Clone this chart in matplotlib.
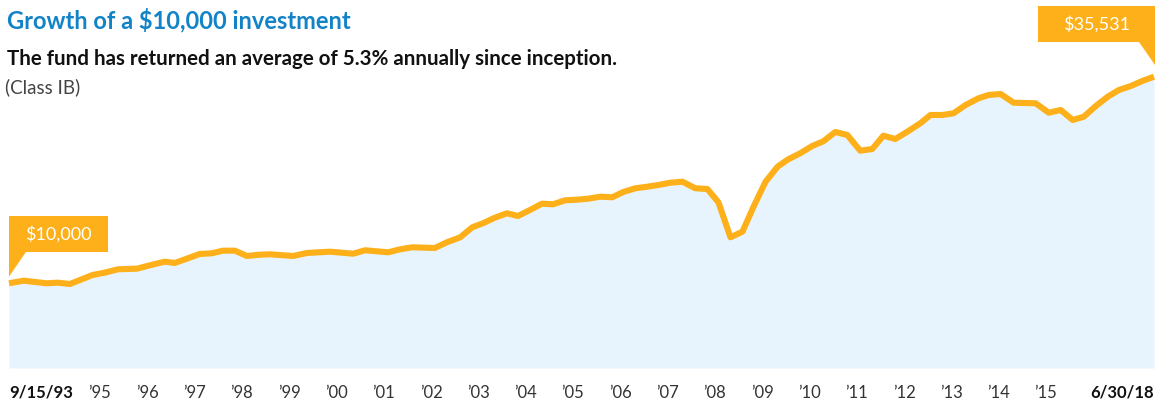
"""
Growth of a $10,000 investment: area chart with start/end callouts.
"""

import matplotlib

matplotlib.use("Agg")
import matplotlib.pyplot as plt
import matplotlib.transforms as mtransforms
from matplotlib.patches import Polygon
import numpy as np

# --- data ----------------------------------------------------------------
dates = [
    1993.71, 1994.03, 1994.52, 1994.77, 1995.03, 1995.52, 1995.78, 1996.07,
    1996.48, 1996.76, 1997.08, 1997.30, 1997.84, 1998.10, 1998.34, 1998.60,
    1998.86, 1999.14, 1999.36, 1999.86, 2000.16, 2000.66, 2001.16, 2001.42,
    2001.92, 2002.18, 2002.44, 2002.93, 2003.19, 2003.48, 2003.74, 2003.97,
    2004.23, 2004.49, 2004.73, 2004.99, 2005.25, 2005.49, 2005.75, 2006.01,
    2006.25, 2006.51, 2006.77, 2007.01, 2007.27, 2007.53, 2007.77, 2008.03,
    2008.29, 2008.57, 2008.83, 2009.07, 2009.33, 2009.59, 2009.83, 2010.09,
    2010.35, 2010.58, 2010.84, 2011.10, 2011.34, 2011.60, 2011.86, 2012.14,
    2012.40, 2012.64, 2012.90, 2013.16, 2013.44, 2013.66, 2013.92, 2014.16,
    2014.42, 2014.70, 2014.92, 2015.18, 2015.46, 2015.94, 2016.22, 2016.48,
    2016.74, 2016.98, 2017.24, 2017.50, 2017.74, 2018.00, 2018.26, 2018.50,
]
values = [
    10000, 10321, 10000, 10074, 9913, 11026, 11310, 11730,
    11804, 12224, 12669, 12509, 13621, 13707, 14029, 14029,
    13374, 13534, 13584, 13374, 13744, 13905, 13658, 14078,
    13831, 14202, 14449, 14362, 15067, 15685, 16920, 17415,
    18107, 18651, 18317, 19058, 19837, 19763, 20257, 20331,
    20455, 20702, 20628, 21283, 21740, 21938, 22148, 22432,
    22556, 21740, 21653, 20010, 15685, 16377, 19466, 22556,
    24410, 25324, 26065, 26967, 27548, 28697, 28327, 26387,
    26597, 28240, 27833, 28735, 29773, 30799, 30799, 31009,
    32034, 32862, 33270, 33394, 32319, 32244, 31083, 31416,
    30181, 30588, 31911, 33060, 33888, 34382, 35037, 35531,
]
tick_labels = ["9/15/93"] + ["\u2019%02d" % (y % 100) for y in range(1995, 2016)] + ["6/30/18"]

title = "Growth of a $10,000 investment"
subtitle = "The fund has returned an average of 5.3% annually since inception."
share_class = "(Class IB)"

# --- style -----------------------------------------------------------------
ORANGE = "#FDB019"
FILL = "#E8F4FD"
BLUE = "#1283C6"
W, H = 1163, 404
plt.rcParams["font.family"] = ["Lato", "DejaVu Sans"]

fig = plt.figure(figsize=(W / 100, H / 100), dpi=100)
ax = fig.add_axes([9 / W, 36 / H, 1145 / W, 368 / H])

x = np.array(dates)
y = np.array(values)
ymin, ymax = -470, 45011
ax.fill_between(x, y, ymin, color=FILL, linewidth=0)
ax.plot(x, y, color=ORANGE, linewidth=4.4, solid_joinstyle="round",
        solid_capstyle="butt", clip_on=False)
ax.set_xlim(x[0], x[-1])
ax.set_ylim(ymin, ymax)
ax.axis("off")


def callout(xv, yv, box, tail, text_xy, label):
    """Draw an orange box with a pointer; coordinates are pixel offsets."""
    trans = fig.dpi_scale_trans + mtransforms.ScaledTranslation(xv, yv, ax.transData)
    x0, x1, y0, y1 = box
    rect = Polygon(np.array([(x0, y0), (x1, y0), (x1, y1), (x0, y1)]) / 100,
                   closed=True, facecolor=ORANGE, edgecolor="none",
                   transform=trans, clip_on=False, zorder=5)
    tri = Polygon(np.array(tail) / 100, closed=True, facecolor=ORANGE,
                  edgecolor="none", transform=trans, clip_on=False, zorder=5)
    ax.add_patch(rect)
    ax.add_patch(tri)
    ax.text(text_xy[0] / 100, text_xy[1] / 100, label, transform=trans,
            color="white", fontsize=13, ha="center", va="center", zorder=6)


callout(dates[0], values[0], (0, 98.7, 31.6, 67.3),
        [(0, 32), (17.4, 32), (0, 6.6)], (49, 49.5), "$%s" % format(values[0], ","))
callout(dates[-1], values[-1], (-116, 1, 34.7, 70.7),
        [(-15, 35), (1, 35), (1, 11.7)], (-57, 53), "$%s" % format(values[-1], ","))

# x labels: evenly spaced between the two dated end labels
tick_pos = [dates[0]] + list(np.linspace(1995.68, 2016.16, 21)) + [dates[-1]]
xt = ax.get_xaxis_transform()
for i, (pos, lab) in enumerate(zip(tick_pos, tick_labels)):
    if i == 0:
        ax.text(pos, -25 / 368, lab, transform=xt, ha="left", va="center",
                fontsize=12, fontweight="bold", color="#111111")
    elif i == len(tick_labels) - 1:
        ax.text(pos, -25 / 368, lab, transform=xt, ha="right", va="center",
                fontsize=12, fontweight="bold", color="#111111")
    else:
        ax.text(pos, -25 / 368, lab, transform=xt, ha="center", va="center",
                fontsize=12, color="#333333")

fig.text(7 / W, 1 - 20 / H, title, color=BLUE, fontsize=17, fontweight="bold",
         ha="left", va="center")
fig.text(7 / W, 1 - 59 / H, subtitle, color="#111111", fontsize=14.8,
         fontweight="bold", ha="left", va="center")
fig.text(5 / W, 1 - 87 / H, share_class, color="#444444", fontsize=13.5,
         ha="left", va="center")

fig.savefig("out.png", dpi=100)
